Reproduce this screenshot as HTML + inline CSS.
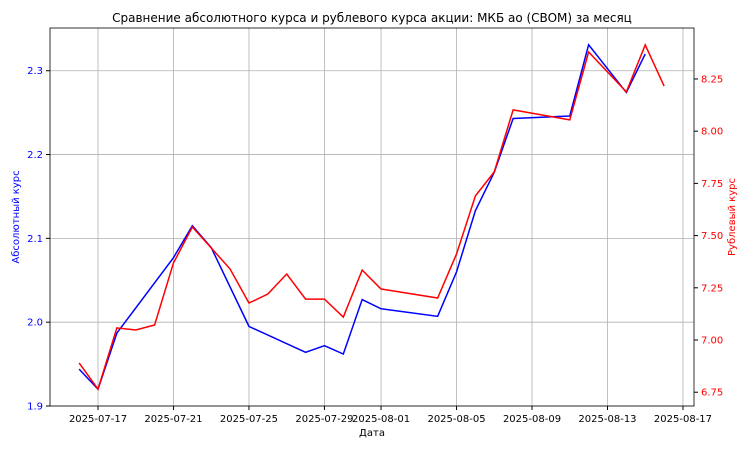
<!DOCTYPE html>
<html><head><meta charset="utf-8"><style>
body{margin:0;background:#fff;font-family:"Liberation Sans","DejaVu Sans",sans-serif}
svg text{font-family:"DejaVu Sans","Liberation Sans",sans-serif}
</style></head><body>
<svg id="c" width="750" height="450" xmlns="http://www.w3.org/2000/svg"></svg>
<script>
const xTickLabels=["2025-07-17","2025-07-21","2025-07-25","2025-07-29","2025-08-01","2025-08-05","2025-08-09","2025-08-13","2025-08-17"];
const xTickDays=[1,5,9,13,16,20,24,28,32];
const blueDays=[0,1,2,5,6,7,9,12,13,14,15,16,19,20,21,22,23,26,27,29,30];
const blueVals=[1.944,1.920,1.987,2.077,2.115,2.089,1.995,1.964,1.972,1.962,2.027,2.016,2.007,2.060,2.133,2.179,2.243,2.246,2.331,2.274,2.320];
const redDays=[0,1,2,3,4,5,6,7,8,9,10,11,12,13,14,15,16,19,20,21,22,23,26,27,29,30,31];
const redVals=[6.890,6.765,7.058,7.048,7.072,7.369,7.541,7.441,7.340,7.177,7.220,7.316,7.196,7.196,7.110,7.335,7.244,7.201,7.412,7.690,7.805,8.102,8.054,8.379,8.188,8.413,8.216];
const leftTicks=[1.9,2.0,2.1,2.2,2.3];
const rightTicks=[6.75,7.00,7.25,7.50,7.75,8.00,8.25];
const L=50,R=694,T=28,B=406;
const xs=d=>98+(d-1)*18.87;
const yl=v=>B-(v-1.9)/(2.351-1.9)*(B-T);
const yr=v=>B-(v-6.684)/(8.494-6.684)*(B-T);
const s=document.getElementById('c');
function el(t,a,txt){const e=document.createElementNS('http://www.w3.org/2000/svg',t);for(const k in a)e.setAttribute(k,a[k]);if(txt!==undefined)e.textContent=txt;s.appendChild(e);return e;}
xTickDays.forEach((d,i)=>{const x=xs(d);
const g=el('line',{x1:x,x2:x,y1:T,y2:B,stroke:'#b0b0b0','stroke-width':0.8});


el('line',{x1:x,x2:x,y1:B,y2:B+4,stroke:'#000'});
const t=el('text',{x:x,y:B+16,'font-size':10,'text-anchor':'middle'},xTickLabels[i]);

});
leftTicks.forEach(v=>{const y=yl(v);
const g=el('line',{x1:L,x2:R,y1:y,y2:y,stroke:'#b0b0b0','stroke-width':0.8});


el('line',{x1:L-4,x2:L,y1:y,y2:y,stroke:'#000'});
const t=el('text',{x:L-7,y:y+3.5,'font-size':10,'text-anchor':'end',fill:'blue'},v.toFixed(1));

});
rightTicks.forEach(v=>{const y=yr(v);
el('line',{x1:R,x2:R+4,y1:y,y2:y,stroke:'#000'});
const t=el('text',{x:R+7,y:y+3.5,'font-size':10,fill:'red'},v.toFixed(2));

});
const pb=el('polyline',{points:blueDays.map((d,i)=>xs(d)+','+yl(blueVals[i])).join(' '),fill:'none',stroke:'blue','stroke-width':1.5});


const pr=el('polyline',{points:redDays.map((d,i)=>xs(d)+','+yr(redVals[i])).join(' '),fill:'none',stroke:'red','stroke-width':1.5});


const fr=el('rect',{x:L,y:T,width:R-L,height:B-T,fill:'none',stroke:'#000','stroke-width':0.8});


const ti=el('text',{x:372,y:22,'font-size':12,'text-anchor':'middle'},'Сравнение абсолютного курса и рублевого курса акции: МКБ ао (CBOM) за месяц');


const xt=el('text',{x:372,y:436,'font-size':10,'text-anchor':'middle'},'Дата');


const lt=el('text',{x:19,y:217,'font-size':10,'text-anchor':'middle',fill:'blue',transform:'rotate(-90 19 217)'},'Абсолютный курс');


const rt=el('text',{x:735,y:217,'font-size':10,'text-anchor':'middle',fill:'red',transform:'rotate(-90 735 217)'},'Рублевый курс');


</script>
</body></html>
